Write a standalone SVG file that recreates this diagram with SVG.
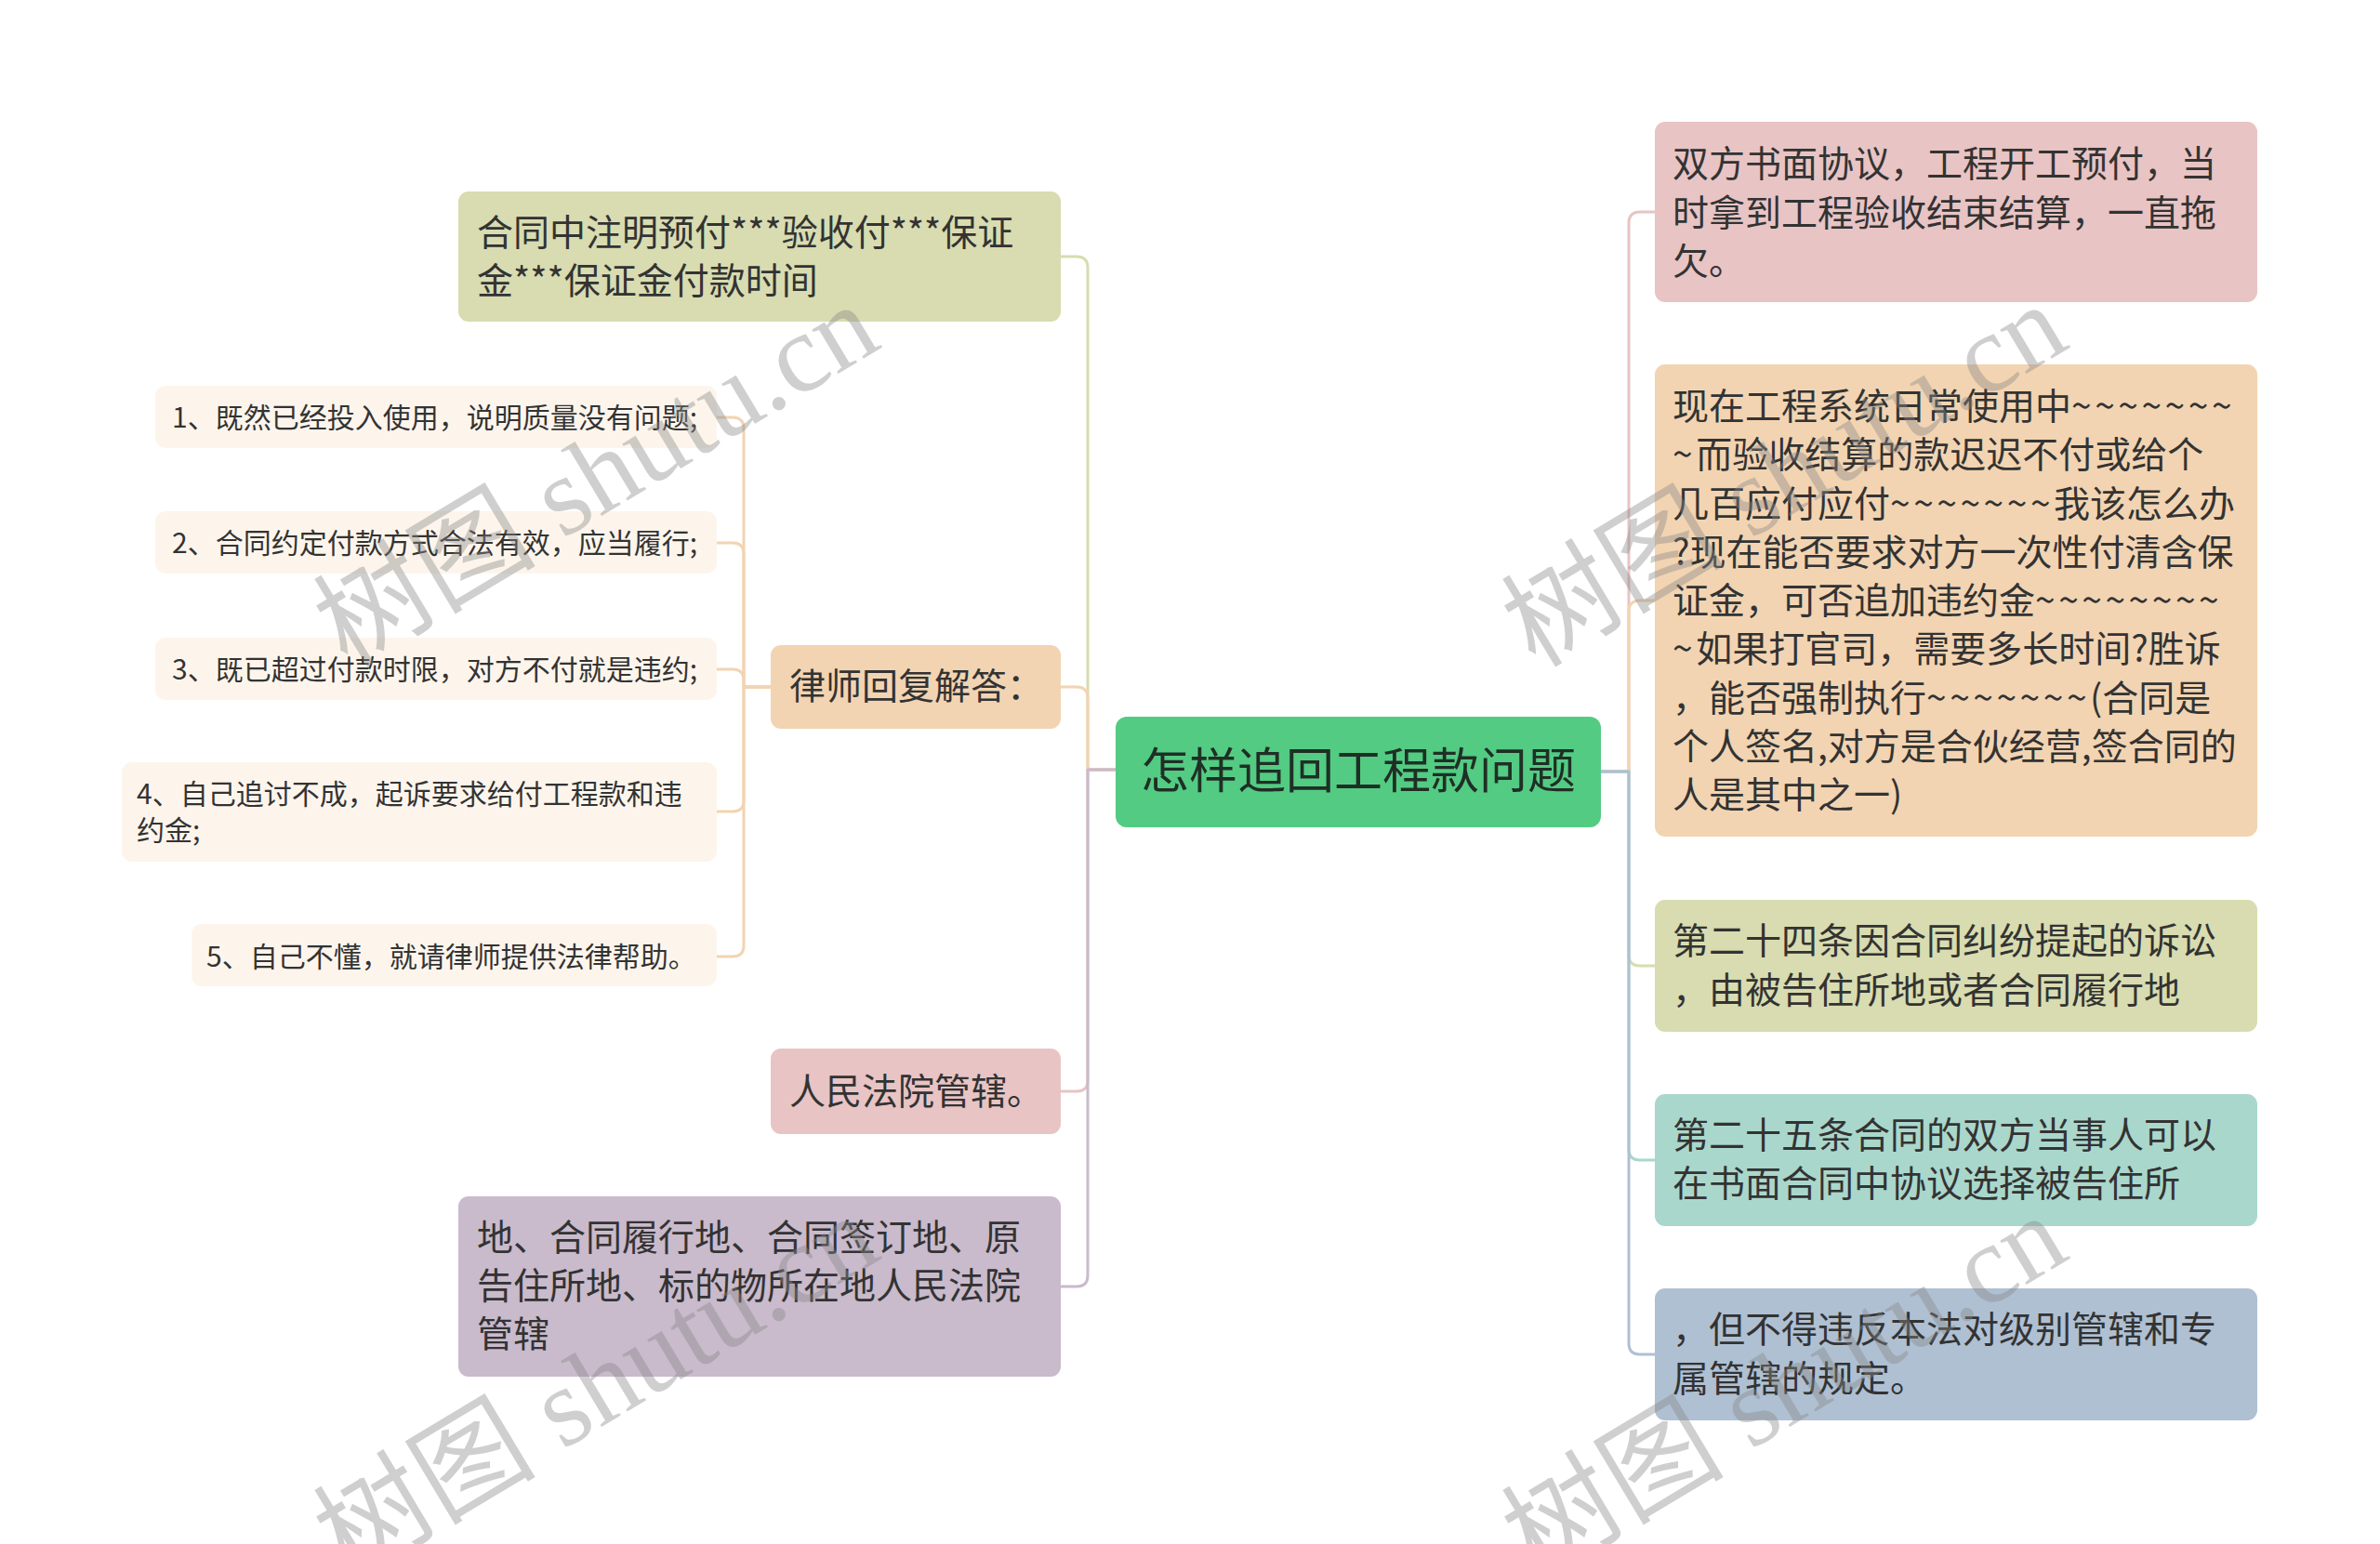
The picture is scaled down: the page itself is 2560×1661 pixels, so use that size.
<svg xmlns="http://www.w3.org/2000/svg" width="2560" height="1661" viewBox="0 0 2560 1661">
<style>
.t{font-family:"Noto Sans CJK SC","Liberation Sans",sans-serif;fill:#333333;}
.f39{font-size:39px;}
.f30{font-size:30px;}
.tl{letter-spacing:3.5px;}
.c{fill:none;stroke-width:3;stroke-linecap:round;stroke-linejoin:round;}
.wm{font-family:"Liberation Serif","Noto Sans CJK SC",serif;font-size:120px;fill:#888888;opacity:0.4;}
</style>
<rect width="2560" height="1661" fill="#ffffff"/>
<g id="connectors">
  <path class="c" stroke="#E8C4C4" d="M1722,830 H1752 V240 Q1752,228 1764,228 H1780"/>
  <path class="c" stroke="#F2D4B2" d="M1722,830 H1752 V658 Q1752,646 1764,646 H1780"/>
  <path class="c" stroke="#D8DCB0" d="M1722,830 H1752 V1027 Q1752,1039 1764,1039 H1780"/>
  <path class="c" stroke="#AAD7CC" d="M1722,830 H1752 V1236 Q1752,1248 1764,1248 H1780"/>
  <path class="c" stroke="#AFC0D3" d="M1722,830 H1752 V1445 Q1752,1457 1764,1457 H1780"/>
  <path class="c" stroke="#D8DCB0" d="M1200,828 H1170 V288 Q1170,276 1158,276 H1141"/>
  <path class="c" stroke="#F2D4B2" d="M1200,828 H1170 V751 Q1170,739 1158,739 H1141"/>
  <path class="c" stroke="#E8C4C4" d="M1200,828 H1170 V1162 Q1170,1174 1158,1174 H1141"/>
  <path class="c" stroke="#C9BACC" d="M1200,828 H1170 V1372 Q1170,1384 1158,1384 H1141"/>
  <path class="c" stroke="#F2D4B2" d="M829,739 H800 V461 Q800,449 788,449 H771"/>
  <path class="c" stroke="#F2D4B2" d="M829,739 H800 V596 Q800,584 788,584 H771"/>
  <path class="c" stroke="#F2D4B2" d="M829,739 H800 V732 Q800,720 788,720 H771"/>
  <path class="c" stroke="#F2D4B2" d="M829,739 H800 V861 Q800,873 788,873 H771"/>
  <path class="c" stroke="#F2D4B2" d="M829,739 H800 V1017 Q800,1029 788,1029 H771"/>
</g>
<g id="root">
  <rect x="1200" y="771" width="522" height="119" rx="12" fill="#53CB83"/>
  <text class="t" x="1461" y="848" font-size="52" text-anchor="middle" style="fill:#1F2F25">怎样追回工程款问题</text>
</g>
<g id="r1">
  <rect x="1780" y="131" width="648" height="194" rx="11" fill="#E8C4C4"/>
  <text class="t f39" x="1799"><tspan x="1799" y="190">双方书面协议，工程开工预付，当</tspan><tspan x="1799" y="243">时拿到工程验收结束结算，一直拖</tspan><tspan x="1799" y="295">欠。</tspan></text>
</g>
<g id="r2">
  <rect x="1780" y="392" width="648" height="508" rx="11" fill="#F2D4B2"/>
  <text class="t f39" x="1799"><tspan x="1799" y="451">现在工程系统日常使用中<tspan class="tl">~~~~~~~</tspan></tspan><tspan x="1799" y="503"><tspan class="tl">~</tspan>而验收结算的款迟迟不付或给个</tspan><tspan x="1799" y="556">几百应付应付<tspan class="tl">~~~~~~~</tspan>我该怎么办</tspan><tspan x="1799" y="608">?现在能否要求对方一次性付清含保</tspan><tspan x="1799" y="660">证金，可否追加违约金<tspan class="tl">~~~~~~~~</tspan></tspan><tspan x="1799" y="712"><tspan class="tl">~</tspan>如果打官司，需要多长时间?胜诉</tspan><tspan x="1799" y="765">，能否强制执行<tspan class="tl">~~~~~~~</tspan>(合同是</tspan><tspan x="1799" y="817">个人签名,对方是合伙经营,签合同的</tspan><tspan x="1799" y="869">人是其中之一)</tspan></text>
</g>
<g id="r3">
  <rect x="1780" y="968" width="648" height="142" rx="11" fill="#D8DCB0"/>
  <text class="t f39" x="1799"><tspan x="1799" y="1026">第二十四条因合同纠纷提起的诉讼</tspan><tspan x="1799" y="1079">，由被告住所地或者合同履行地</tspan></text>
</g>
<g id="r4">
  <rect x="1780" y="1177" width="648" height="142" rx="11" fill="#AAD7CC"/>
  <text class="t f39" x="1799"><tspan x="1799" y="1235">第二十五条合同的双方当事人可以</tspan><tspan x="1799" y="1287">在书面合同中协议选择被告住所</tspan></text>
</g>
<g id="r5">
  <rect x="1780" y="1386" width="648" height="142" rx="11" fill="#AFC0D3"/>
  <text class="t f39" x="1799"><tspan x="1799" y="1444">，但不得违反本法对级别管辖和专</tspan><tspan x="1799" y="1497">属管辖的规定。</tspan></text>
</g>
<g id="l1">
  <rect x="493" y="206" width="648" height="140" rx="11" fill="#D8DCB0"/>
  <text class="t f39" x="513"><tspan x="513" y="264">合同中注明预付***验收付***保证</tspan><tspan x="513" y="316">金***保证金付款时间</tspan></text>
</g>
<g id="l2">
  <rect x="829" y="694" width="312" height="90" rx="11" fill="#F2D4B2"/>
  <text class="t f39" x="849" y="752">律师回复解答：</text>
</g>
<g id="c1">
  <rect x="167" y="415" width="604" height="67" rx="11" fill="#FDF5EC"/>
  <text class="t f30" x="185" y="460">1、既然已经投入使用，说明质量没有问题;</text>
</g>
<g id="c2">
  <rect x="167" y="550" width="604" height="67" rx="11" fill="#FDF5EC"/>
  <text class="t f30" x="185" y="595">2、合同约定付款方式合法有效，应当履行;</text>
</g>
<g id="c3">
  <rect x="167" y="686" width="604" height="67" rx="11" fill="#FDF5EC"/>
  <text class="t f30" x="185" y="731">3、既已超过付款时限，对方不付就是违约;</text>
</g>
<g id="c4">
  <rect x="131" y="820" width="640" height="107" rx="11" fill="#FDF5EC"/>
  <text class="t f30" x="147"><tspan x="147" y="865">4、自己追讨不成，起诉要求给付工程款和违</tspan><tspan x="147" y="904">约金;</tspan></text>
</g>
<g id="c5">
  <rect x="206" y="994" width="565" height="67" rx="11" fill="#FDF5EC"/>
  <text class="t f30" x="222" y="1040">5、自己不懂，就请律师提供法律帮助。</text>
</g>
<g id="l3">
  <rect x="829" y="1128" width="312" height="92" rx="11" fill="#E8C4C4"/>
  <text class="t f39" x="849" y="1188">人民法院管辖。</text>
</g>
<g id="l4">
  <rect x="493" y="1287" width="648" height="194" rx="11" fill="#C9BACC"/>
  <text class="t f39" x="513"><tspan x="513" y="1345">地、合同履行地、合同签订地、原</tspan><tspan x="513" y="1397">告住所地、标的物所在地人民法院</tspan><tspan x="513" y="1449">管辖</tspan></text>
</g>
<g id="watermarks">
  <text class="wm" text-anchor="middle" transform="translate(662,546) rotate(-31)">树图 shutu.cn</text>
  <text class="wm" text-anchor="middle" transform="translate(1940,546) rotate(-31)">树图 shutu.cn</text>
  <text class="wm" text-anchor="middle" transform="translate(662,1526) rotate(-31)">树图 shutu.cn</text>
  <text class="wm" text-anchor="middle" transform="translate(1940,1526) rotate(-31)">树图 shutu.cn</text>
</g>
</svg>
